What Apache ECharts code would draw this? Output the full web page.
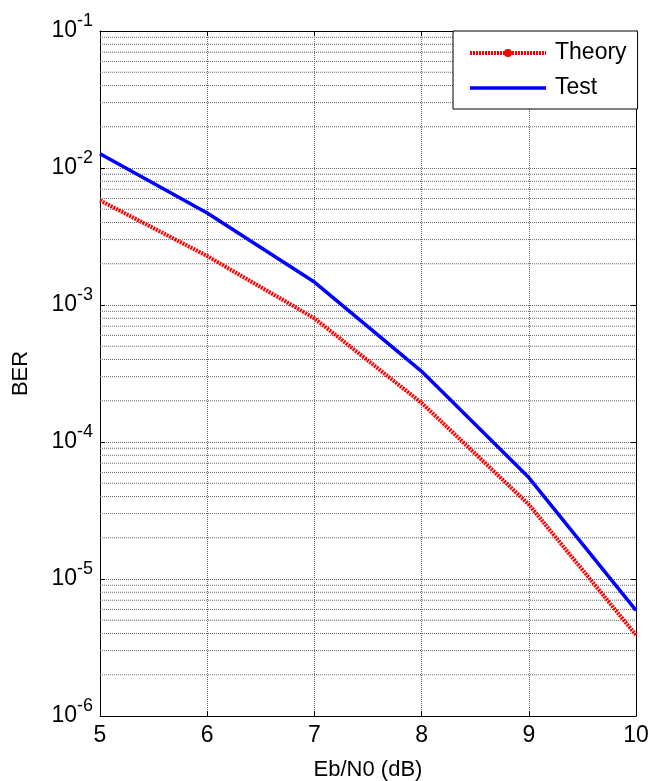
<!DOCTYPE html>
<html>
<head>
<meta charset="utf-8">
<script src="https://cdn.jsdelivr.net/npm/echarts@6/dist/echarts.min.js"></script>
<style>
  html, body { margin: 0; padding: 0; background: #fff; }
  #chart { width: 651px; height: 781px; }
</style>
</head>
<body>
<div id="chart"></div>
<script>
// Eb/N0 (dB)
var ebn0 = [5, 6, 7, 8, 9, 10]
// BER values
var theoryBer = [5.8e-3, 2.28e-3, 8.0e-4, 1.93e-4, 3.5e-5, 3.9e-6]
var testBer = [1.27e-2, 4.7e-3, 1.47e-3, 3.28e-4, 5.5e-5, 5.9e-6]
// decades of the log axis, minor grid at 2..9 of each
var decades = [-6, -5, -4, -3, -2]
var minorSteps = [2, 3, 4, 5, 6, 7, 8, 9]

var FONT = 'Liberation Sans, Arial, Helvetica, sans-serif'
var gridColor = '#666'

// minor horizontal grid as one broken line series (x from 5 to 10 at each minor value)
var minorGrid = []
decades.forEach(function(e) {
  minorSteps.forEach(function(m) {
    var v = m * Math.pow(10, e)
    minorGrid.push([ebn0[0], v], [ebn0[ebn0.length - 1], v], [ebn0[ebn0.length - 1], '-'])
  })
})

function pairs(ys) {
  return ebn0.map(function(x, i) { return [x, ys[i]] })
}

var chart = echarts.init(document.getElementById('chart'))
chart.setOption({
  animation: false,
  backgroundColor: '#fff',
  textStyle: { fontFamily: FONT },
  grid: { left: 100, right: 15, top: 31, bottom: 65, containLabel: false, outerBoundsMode: 'none' },
  legend: {
    data: [
      {
        name: 'Theory',
        itemStyle: { color: '#ff0000' },
        lineStyle: { color: '#ff0000', width: 4, type: [2, 1] }
      },
      {
        name: 'Test',
        itemStyle: { color: '#0000ff', opacity: 0 },
        lineStyle: { color: '#0000ff', width: 3.5, type: 'solid' }
      }
    ],
    orient: 'vertical',
    left: 453,
    top: 31,
    backgroundColor: '#fff',
    borderColor: '#000',
    borderWidth: 1,
    borderRadius: 0,
    padding: [9, 11, 8, 15],
    itemWidth: 76,
    itemHeight: 10,
    itemGap: 9,
    textStyle: { fontSize: 23, color: '#000', fontFamily: FONT, lineHeight: 26, padding: [0, 0, 0, 4] }
  },
  xAxis: [{
    type: 'value',
    min: 5,
    max: 10,
    interval: 1,
    name: 'Eb/N0 (dB)',
    nameLocation: 'middle',
    nameGap: 43,
    nameTextStyle: { fontSize: 22, color: '#000', fontFamily: FONT },
    axisLine: { lineStyle: { color: '#000', width: 1 } },
    axisTick: { inside: true, length: 5, lineStyle: { color: '#000' } },
    axisLabel: { fontSize: 23, color: '#000', margin: 8, fontFamily: FONT },
    splitLine: { show: true, lineStyle: { color: gridColor, type: [1, 1], width: 1 } }
  }, {
    type: 'value',
    position: 'top',
    min: 5,
    max: 10,
    interval: 1,
    axisLine: { show: true, lineStyle: { color: '#000', width: 1 } },
    axisTick: { show: true, inside: true, length: 5, lineStyle: { color: '#000' } },
    axisLabel: { show: false },
    splitLine: { show: false }
  }],
  yAxis: [{
    type: 'log',
    logBase: 10,
    min: 1e-6,
    max: 1e-1,
    name: 'BER',
    nameLocation: 'middle',
    nameGap: 68,
    nameTextStyle: { fontSize: 22, color: '#000', fontFamily: FONT },
    axisLine: { show: true, lineStyle: { color: '#000', width: 1 } },
    axisTick: { show: true, inside: true, length: 5, lineStyle: { color: '#000' } },
    axisLabel: {
      margin: 7,
      formatter: function(v) {
        var e = Math.round(Math.log(v) / Math.LN10)
        return '{b|10}{s|' + e + '}'
      },
      rich: {
        b: { fontSize: 23, color: '#000', fontFamily: FONT, lineHeight: 26 },
        s: { fontSize: 18, color: '#000', fontFamily: FONT, lineHeight: 18, padding: [0, 0, 20, 0] }
      }
    },
    splitLine: { show: true, lineStyle: { color: gridColor, type: [1, 1], width: 1 } }
  }, {
    type: 'log',
    logBase: 10,
    min: 1e-6,
    max: 1e-1,
    position: 'right',
    axisLine: { show: true, lineStyle: { color: '#000', width: 1 } },
    axisTick: { show: true, inside: true, length: 5, lineStyle: { color: '#000' } },
    axisLabel: { show: false },
    splitLine: { show: false }
  }],
  series: [
    {
      name: 'Theory',
      type: 'line',
      data: pairs(theoryBer),
      symbol: 'circle',
      symbolSize: 10,
      showSymbol: false,
      z: 3,
      itemStyle: { color: '#ff0000' },
      lineStyle: { color: '#ff0000', width: 4, type: [2, 1] }
    },
    {
      name: 'Test',
      type: 'line',
      data: pairs(testBer),
      symbol: 'none',
      z: 3,
      itemStyle: { color: '#0000ff' },
      lineStyle: { color: '#0000ff', width: 3.5 }
    },
    {
      name: 'minorGrid',
      type: 'line',
      data: minorGrid,
      silent: true,
      symbol: 'none',
      connectNulls: false,
      z: 1,
      lineStyle: { color: gridColor, type: [1, 1], width: 1 }
    }
  ]
})
</script>
</body>
</html>
